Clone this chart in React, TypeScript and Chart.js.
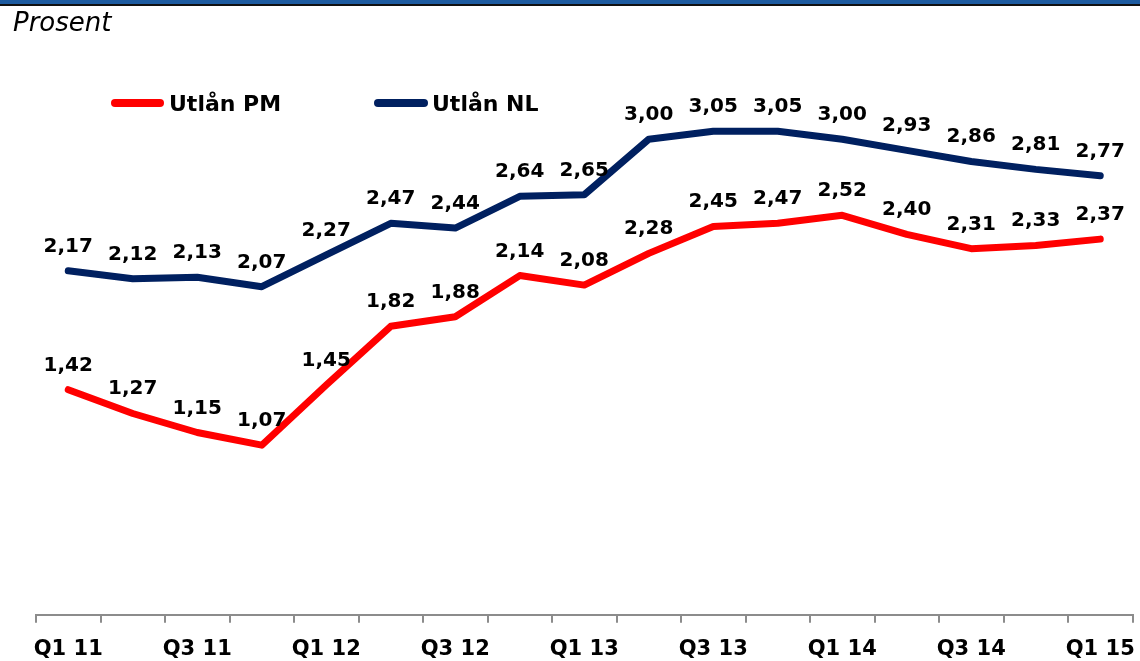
import React, { useEffect, useRef } from "react";
import { Chart, registerables } from "chart.js";

Chart.register(...registerables);

const categories = [
  "Q1 11", "Q2 11", "Q3 11", "Q4 11",
  "Q1 12", "Q2 12", "Q3 12", "Q4 12",
  "Q1 13", "Q2 13", "Q3 13", "Q4 13",
  "Q1 14", "Q2 14", "Q3 14", "Q4 14",
  "Q1 15",
];
const utlanPM = [1.42, 1.27, 1.15, 1.07, 1.45, 1.82, 1.88, 2.14, 2.08, 2.28, 2.45, 2.47, 2.52, 2.4, 2.31, 2.33, 2.37];
const utlanNL = [2.17, 2.12, 2.13, 2.07, 2.27, 2.47, 2.44, 2.64, 2.65, 3.0, 3.05, 3.05, 3.0, 2.93, 2.86, 2.81, 2.77];
const seriesNames = ["Utlån PM", "Utlån NL"];
const seriesColors = ["#FF0000", "#002060"];
const yAxisTitle = "Prosent";

const fmt = (v: number) => v.toFixed(2).replace(".", ",");

const decorPlugin = {
  id: "decor",
  beforeDraw(chart: any) {
    const ctx = chart.ctx;
    ctx.save();
    ctx.fillStyle = "#ffffff";
    ctx.fillRect(0, 0, chart.width, chart.height);
    ctx.fillStyle = "#1D5BA0";
    ctx.fillRect(0, 0, chart.width, 4);
    ctx.fillStyle = "#111111";
    ctx.fillRect(0, 4, chart.width, 2);
    ctx.fillStyle = "#000000";
    ctx.font = "italic 26px 'DejaVu Sans'";
    ctx.textBaseline = "alphabetic";
    ctx.textAlign = "left";
    ctx.fillText(yAxisTitle, 13, 31);
    // legend
    const items = [
      { x0: 111, x1: 164, tx: 169 },
      { x0: 374, x1: 428, tx: 432 },
    ];
    items.forEach((it, i) => {
      ctx.strokeStyle = seriesColors[i];
      ctx.lineWidth = 8;
      ctx.lineCap = "round";
      ctx.beginPath();
      ctx.moveTo(it.x0 + 4, 103);
      ctx.lineTo(it.x1 - 4, 103);
      ctx.stroke();
      ctx.fillStyle = "#000000";
      ctx.font = "bold 22px 'DejaVu Sans'";
      ctx.fillText(seriesNames[i], it.tx, 111);
    });
    ctx.restore();
  },
  afterDatasetsDraw(chart: any) {
    const ctx = chart.ctx;
    ctx.save();
    ctx.fillStyle = "#000000";
    ctx.font = "bold 20px 'DejaVu Sans'";
    ctx.textAlign = "center";
    ctx.textBaseline = "alphabetic";
    chart.data.datasets.forEach((ds: any, di: number) => {
      const meta = chart.getDatasetMeta(di);
      meta.data.forEach((pt: any, i: number) => {
        ctx.fillText(fmt(ds.data[i]), pt.x, pt.y - 19);
      });
    });
    ctx.restore();
  },
};

export default function App() {
  const ref = useRef<HTMLCanvasElement | null>(null);
  useEffect(() => {
    document.body.style.margin = "0";
    document.body.style.overflow = "hidden";
    const chart = new Chart(ref.current as HTMLCanvasElement, {
      type: "line",
      data: {
        labels: categories,
        datasets: [
          {
            label: seriesNames[0],
            data: utlanPM,
            borderColor: seriesColors[0],
            backgroundColor: seriesColors[0],
            borderWidth: 7,
            pointRadius: 0,
            tension: 0,
            borderJoinStyle: "round",
            borderCapStyle: "round",
          },
          {
            label: seriesNames[1],
            data: utlanNL,
            borderColor: seriesColors[1],
            backgroundColor: seriesColors[1],
            borderWidth: 7,
            pointRadius: 0,
            tension: 0,
            borderJoinStyle: "round",
            borderCapStyle: "round",
          },
        ],
      },
      options: {
        animation: false,
        responsive: false,
        maintainAspectRatio: false,
        layout: { padding: { left: 36, right: 8, top: 60, bottom: 4 } },
        plugins: {
          legend: { display: false },
          title: { display: false },
          tooltip: { enabled: false },
        },
        scales: {
          x: {
            offset: true,
            grid: {
              offset: true,
              drawOnChartArea: false,
              drawTicks: true,
              tickLength: 8,
              color: "#8C8C8C",
              lineWidth: 2,
            },
            border: { display: true, color: "#8C8C8C", width: 2 },
            ticks: {
              autoSkip: false,
              maxRotation: 0,
              padding: 14,
              color: "#000000",
              font: { family: "'DejaVu Sans'", size: 21, weight: "bold" },
              callback: (_v: any, i: number) => (i % 2 === 0 ? categories[i] : ""),
            },
          },
          y: {
            display: false,
            min: 0,
            max: 3.5,
          },
        },
      },
      plugins: [decorPlugin],
    } as any);
    return () => chart.destroy();
  }, []);
  return (
    <div style={{ width: 1140, height: 661, overflow: "hidden" }}>
      <canvas ref={ref} width={1149} height={680} style={{ display: "block" }} />
    </div>
  );
}
